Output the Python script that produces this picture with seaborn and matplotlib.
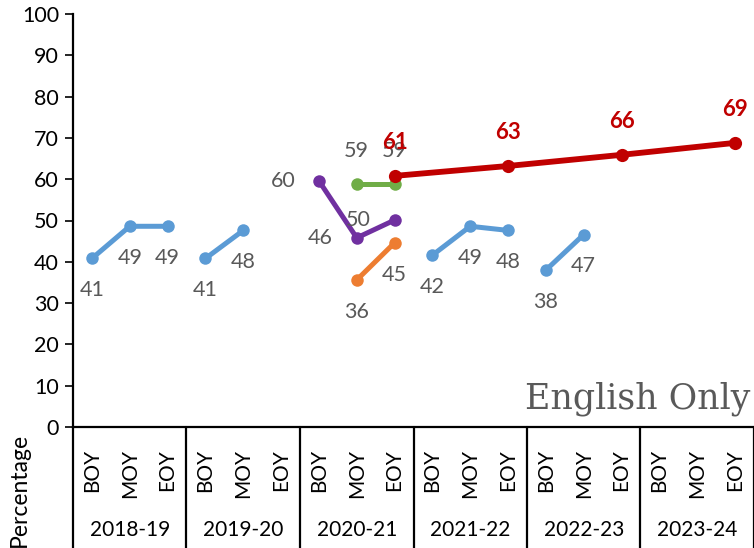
import matplotlib
matplotlib.use("Agg")
import matplotlib.pyplot as plt
import matplotlib.transforms as mtransforms
import seaborn as sns
import pandas as pd
import numpy as np

years = ["2018-19", "2019-20", "2020-21", "2021-22", "2022-23", "2023-24"]
periods = ["BOY", "MOY", "EOY"]
categories = [f"{y} {p}" for y in years for p in periods]

blue_1819 = [40.8, 48.6, 48.6]
blue_1920 = [40.8, 47.6]
purple_2021 = [59.6, 45.8, 50.1]
green_2021 = [58.8, 58.8]
orange_2021 = [35.6, 44.6]
blue_2122 = [41.6, 48.6, 47.6]
blue_2223 = [38.0, 46.6]
red_trend = [60.8, 63.2, 65.9, 68.8]

segments = [
    ("blue", ["2018-19 BOY", "2018-19 MOY", "2018-19 EOY"], blue_1819, "below"),
    ("blue", ["2019-20 BOY", "2019-20 MOY"], blue_1920, "below"),
    ("purple", ["2020-21 BOY", "2020-21 MOY", "2020-21 EOY"], purple_2021, "left"),
    ("green", ["2020-21 MOY", "2020-21 EOY"], green_2021, "above"),
    ("orange", ["2020-21 MOY", "2020-21 EOY"], orange_2021, "below"),
    ("blue", ["2021-22 BOY", "2021-22 MOY", "2021-22 EOY"], blue_2122, "below"),
    ("blue", ["2022-23 BOY", "2022-23 MOY"], blue_2223, "below"),
    ("red", ["2020-21 EOY", "2021-22 EOY", "2022-23 EOY", "2023-24 EOY"], red_trend, "above"),
]

colors = {"blue": "#5B9BD5", "purple": "#7030A0", "green": "#70AD47",
          "orange": "#ED7D31", "red": "#C00000"}

sns.set_theme(style="white")
plt.rcParams["font.family"] = ["Lato", "DejaVu Sans"]

fig = plt.figure(figsize=(7.54, 5.48), dpi=100)
ax = fig.add_axes([73 / 754, 1 - 427 / 548, 1 - 73 / 754, (427 - 14) / 548])

pos = {c: i for i, c in enumerate(categories)}
label_gray = "#595959"

for name, cats, vals, where in segments:
    df = pd.DataFrame({"x": [pos[c] for c in cats], "y": vals})
    is_red = name == "red"
    sns.lineplot(data=df, x="x", y="y", ax=ax, color=colors[name],
                 linewidth=4.2 if is_red else 3.6, marker="o",
                 markersize=9.5 if is_red else 9, markeredgewidth=0,
                 zorder=4 if is_red else 3, legend=False)
    for x, y in zip(df["x"], df["y"]):
        if where == "below":
            off = (0, -23)
        elif where == "above":
            off = (0, 24)
        else:
            off = (-26, 0)
        ax.annotate(f"{y:.0f}", (x, y), xytext=off, textcoords="offset points",
                    ha="center", va="center", fontsize=16 if is_red else 15.5,
                    color="#C00000" if is_red else label_gray,
                    fontweight="bold" if is_red else "normal", zorder=5)

ax.set_xlim(-0.5, len(categories) - 0.5)
ax.set_ylim(0, 100)
ax.set_yticks(range(0, 101, 10))
ax.tick_params(axis="y", labelsize=15.5, length=6, width=1.2, color="black",
               left=True, pad=4, labelcolor="black")
ax.set_xticks(range(len(categories)))
ax.set_xticklabels([c.split()[1] for c in categories], rotation=90,
                   fontsize=15)
ax.tick_params(axis="x", length=0, pad=16, labelcolor="black")
ax.set_xlabel("")
ax.set_ylabel("")
for s in ["top", "right"]:
    ax.spines[s].set_visible(False)
for s in ["left", "bottom"]:
    ax.spines[s].set_color("black")
    ax.spines[s].set_linewidth(1.6)
ax.grid(False)

trans = mtransforms.blended_transform_factory(ax.transData, ax.transAxes)
for k in range(len(years) + 1):
    xb = -0.5 + 3 * k
    ax.plot([xb, xb], [0, -0.3], transform=trans, color="black",
            linewidth=1.6, clip_on=False)
for k, yr in enumerate(years):
    ax.text(3 * k + 1, -0.25, yr, transform=trans, ha="center", va="center",
            fontsize=15, color="black")

fig.text(19 / 754, 1 - 490 / 548, "Percentage", rotation=90, ha="center",
         va="center", fontsize=16.5, color="black")
fig.text(750 / 754, 1 - 409 / 548, "English Only", ha="right", va="baseline",
         fontsize=25, color="#595959", family=["DejaVu Serif"])

fig.savefig("out.png", dpi=100)
